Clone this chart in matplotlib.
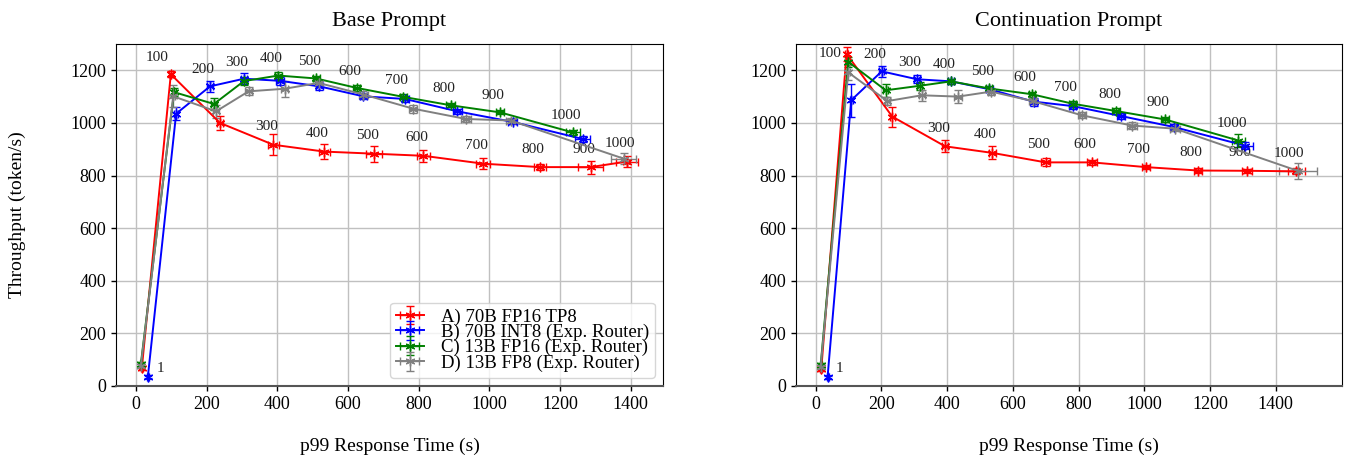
import matplotlib
matplotlib.use("Agg")
import matplotlib.pyplot as plt

plt.rcParams['font.family'] = ['Liberation Serif', 'DejaVu Serif']

# kullanici sayilari (nokta etiketleri)
users = [1, 100, 200, 300, 400, 500, 600, 700, 800, 900, 1000]

labels = ['A) 70B FP16 TP8', 'B) 70B INT8 (Exp. Router)',
          'C) 13B FP16 (Exp. Router)', 'D) 13B FP8 (Exp. Router)']
colors = ['red', 'blue', 'green', 'gray']

# ---- Base Prompt ----
base_a_x = [17, 99, 238, 389, 533, 674, 814, 983, 1144, 1287, 1389]
base_a_y = [69, 1185, 1000, 917, 891, 883, 875, 845, 832, 832, 853]
base_a_xerr = [3, 5, 8, 16, 16, 23, 19, 19, 17, 36, 31]
base_a_yerr = [8, 12, 28, 40, 29, 31, 22, 21, 10, 25, 20]

base_b_x = [34, 114, 210, 306, 408, 519, 644, 762, 910, 1066, 1264]
base_b_y = [35, 1035, 1139, 1168, 1160, 1139, 1101, 1091, 1044, 1004, 939]
base_b_xerr = [3, 6, 8, 8, 10, 10, 10, 10, 12, 12, 21]
base_b_yerr = [5, 25, 20, 20, 15, 12, 12, 10, 10, 10, 12]

base_c_x = [14, 108, 221, 306, 403, 510, 625, 757, 891, 1031, 1236]
base_c_y = [82, 1117, 1072, 1159, 1180, 1169, 1133, 1099, 1067, 1040, 964]
base_c_xerr = [3, 5, 8, 8, 10, 10, 10, 10, 12, 12, 20]
base_c_yerr = [8, 15, 23, 15, 12, 10, 10, 10, 8, 8, 10]

base_d_x = [14, 106, 227, 319, 422, 517, 644, 785, 934, 1061, 1381]
base_d_y = [75, 1101, 1044, 1120, 1130, 1152, 1108, 1054, 1015, 1009, 864]
base_d_xerr = [3, 5, 8, 10, 10, 10, 12, 12, 14, 14, 35]
base_d_yerr = [8, 42, 25, 15, 30, 12, 12, 15, 12, 10, 20]

# ---- Continuation Prompt ----
cont_a_x = [17, 94, 233, 394, 538, 700, 841, 1005, 1164, 1313, 1463]
cont_a_y = [66, 1262, 1024, 911, 886, 850, 850, 832, 819, 818, 816]
cont_a_xerr = [3, 5, 8, 10, 12, 14, 14, 12, 12, 14, 25]
cont_a_yerr = [8, 25, 38, 23, 25, 15, 10, 8, 8, 8, 12]

cont_b_x = [36, 108, 201, 308, 412, 529, 663, 782, 930, 1092, 1306]
cont_b_y = [33, 1086, 1196, 1166, 1158, 1128, 1081, 1064, 1026, 984, 914]
cont_b_xerr = [3, 5, 8, 8, 10, 10, 10, 10, 12, 12, 25]
cont_b_yerr = [5, 62, 20, 15, 10, 10, 15, 10, 10, 10, 12]

cont_c_x = [15, 99, 213, 316, 412, 528, 658, 782, 915, 1064, 1287]
cont_c_y = [79, 1232, 1124, 1141, 1158, 1131, 1109, 1073, 1045, 1013, 933]
cont_c_xerr = [3, 5, 8, 8, 10, 10, 10, 10, 12, 12, 20]
cont_c_yerr = [8, 20, 25, 15, 10, 10, 10, 10, 10, 10, 25]

cont_d_x = [15, 99, 218, 323, 433, 534, 660, 810, 963, 1094, 1467]
cont_d_y = [72, 1192, 1083, 1105, 1100, 1119, 1083, 1029, 990, 978, 818]
cont_d_xerr = [3, 5, 8, 10, 12, 10, 12, 12, 14, 14, 58]
cont_d_yerr = [8, 30, 15, 20, 25, 12, 12, 12, 12, 10, 30]

# baslik, x araligi, "100" etiketinin kaydirmasi, seriler
panels = [
    ('Base Prompt', (-56, 1492), (-10, 12),
     [(base_a_x, base_a_y, base_a_xerr, base_a_yerr),
      (base_b_x, base_b_y, base_b_xerr, base_b_yerr),
      (base_c_x, base_c_y, base_c_xerr, base_c_yerr),
      (base_d_x, base_d_y, base_d_xerr, base_d_yerr)]),
    ('Continuation Prompt', (-60, 1602), (-12, 0),
     [(cont_a_x, cont_a_y, cont_a_xerr, cont_a_yerr),
      (cont_b_x, cont_b_y, cont_b_xerr, cont_b_yerr),
      (cont_c_x, cont_c_y, cont_c_xerr, cont_c_yerr),
      (cont_d_x, cont_d_y, cont_d_xerr, cont_d_yerr)]),
]

fig = plt.figure(figsize=(13.51, 4.66), dpi=100)
ax_left = fig.add_axes([0.0859, 0.1717, 0.4049, 0.7339])
ax_right = fig.add_axes([0.5892, 0.1717, 0.4041, 0.7339])

for ax, (title, xlim, off100, series) in zip([ax_left, ax_right], panels):
    for (x, y, xe, ye), c, lab in zip(series, colors, labels):
        ax.errorbar(x, y, xerr=xe, yerr=ye, color=c, lw=1.4, elinewidth=1.0,
                    capsize=3, capthick=1.0, marker=(6, 2, 0), ms=7,
                    mew=1.0, label=lab, zorder=3)

    # ust etiketler: her kullanici sayisinda en yuksek noktanin ustune
    for i in range(1, len(users)):
        best = max(series, key=lambda s: s[1][i])
        off = off100 if i == 1 else (-5, 12)
        ax.annotate(str(users[i]), (best[0][i], best[1][i]),
                    xytext=off, textcoords='offset points',
                    ha='center', va='center', fontsize=11, color='#222222')
    # kirmizi serinin alt etiketleri
    red = series[0]
    for i in range(3, len(users)):
        ax.annotate(str(users[i]), (red[0][i], red[1][i]),
                    xytext=(-5, 13), textcoords='offset points',
                    ha='center', va='center', fontsize=11, color='#222222')
    blue = series[1]
    ax.annotate('1', (blue[0][0], blue[1][0]), xytext=(6, 6),
                textcoords='offset points', ha='left', va='center',
                fontsize=11, color='#222222')

    ax.set_xlim(*xlim)
    ax.set_ylim(0, 1300)
    ax.set_xticks(range(0, 1401, 200))
    ax.set_yticks(range(0, 1201, 200))
    ax.grid(True, color='#c0c0c0', lw=1.0)
    ax.set_axisbelow(True)
    ax.tick_params(labelsize=13, length=3.5, width=1, direction='out')
    ax.set_title(title, fontsize=16, pad=13)
    ax.set_xlabel('p99 Response Time (s)', fontsize=14, labelpad=18)
    for side in ['top', 'right', 'left']:
        ax.spines[side].set_color('black')
    ax.spines['bottom'].set_color('#555555')
    ax.spines['bottom'].set_linewidth(1.5)

ax_left.set_ylabel('Throughput (token/s)', fontsize=14, labelpad=32)
ax_left.legend(loc='lower right', fontsize=13.5, labelspacing=-0.1,
               handlelength=1.5, handletextpad=0.9, borderpad=0.3,
               borderaxespad=0.45, framealpha=0.8, edgecolor='#cccccc')

plt.savefig('out.png', dpi=100)
